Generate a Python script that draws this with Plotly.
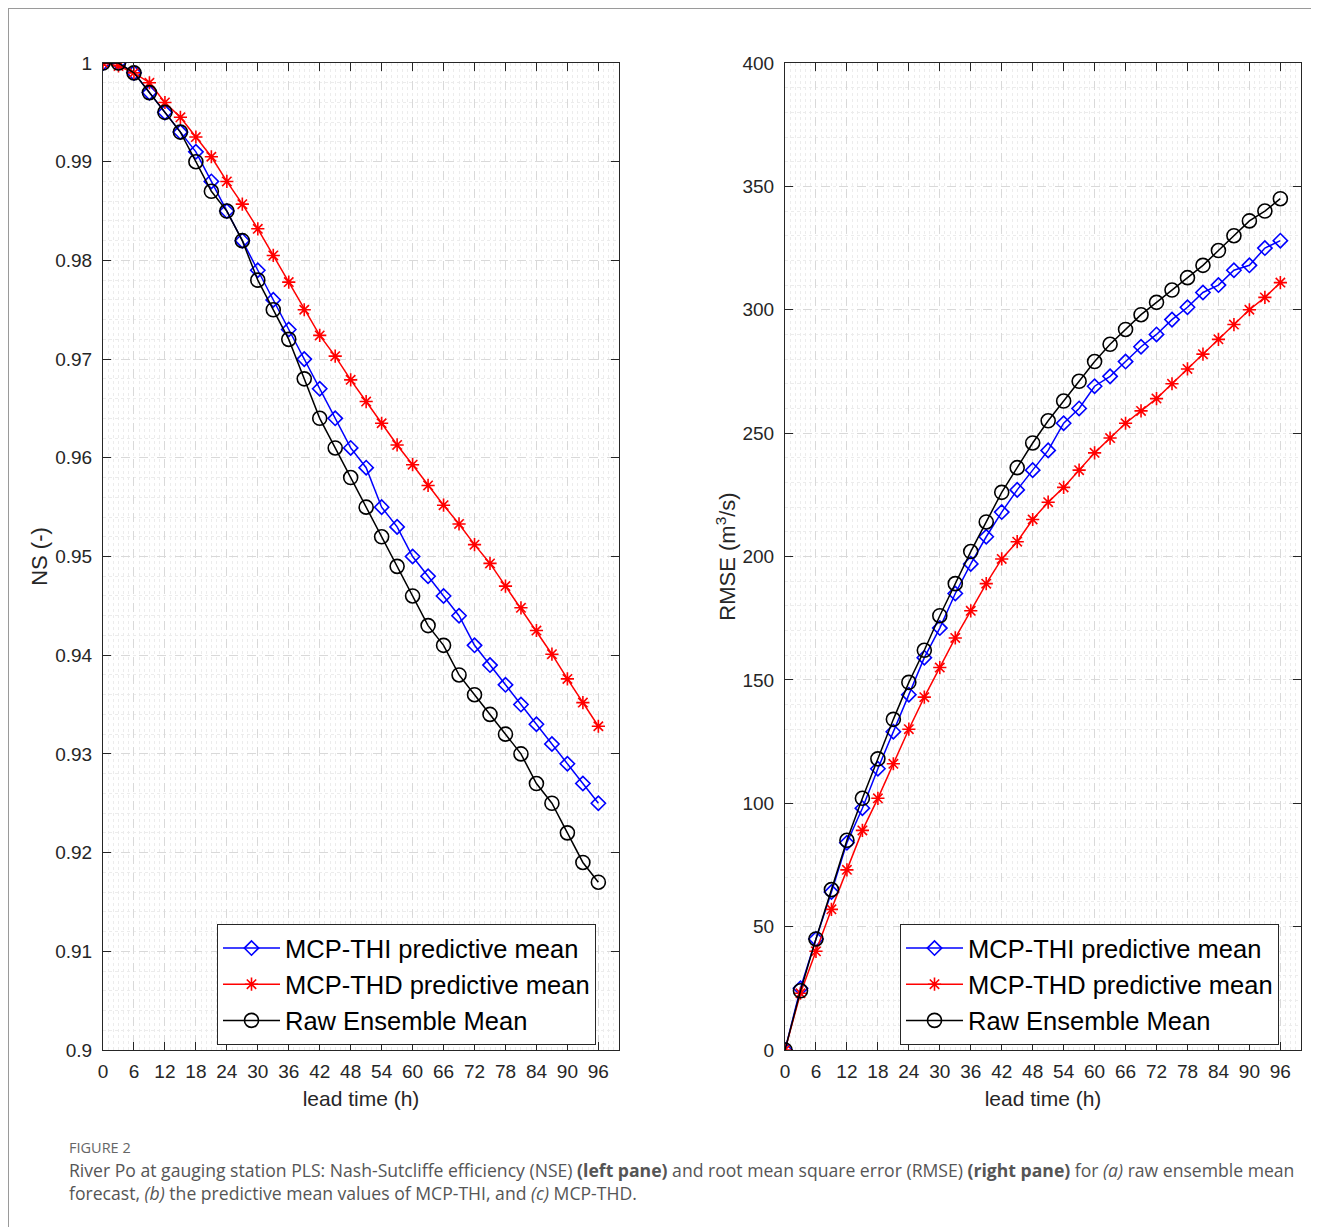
import plotly.graph_objects as go

lead_time = list(range(0, 97, 3))
x_ticks = list(range(0, 97, 6))

ns_ticks = [0.90, 0.91, 0.92, 0.93, 0.94, 0.95, 0.96, 0.97, 0.98, 0.99, 1.00]
ns_tick_labels = ["0.9", "0.91", "0.92", "0.93", "0.94", "0.95", "0.96", "0.97", "0.98", "0.99", "1"]
rmse_ticks = [0, 50, 100, 150, 200, 250, 300, 350, 400]

series_names = ["MCP-THI predictive mean", "MCP-THD predictive mean", "Raw Ensemble Mean"]

ns_thi = [1.000, 1.000, 0.999, 0.997, 0.995, 0.993, 0.991, 0.988, 0.985, 0.982, 0.979,
          0.976, 0.973, 0.970, 0.967, 0.964, 0.961, 0.959, 0.955, 0.953, 0.950, 0.948,
          0.946, 0.944, 0.941, 0.939, 0.937, 0.935, 0.933, 0.931, 0.929, 0.927, 0.925]
ns_thd = [1.000, 0.9997, 0.999, 0.998, 0.996, 0.9945, 0.9925, 0.9905, 0.988, 0.9857, 0.9832,
          0.9805, 0.9778, 0.9750, 0.9724, 0.9703, 0.9679, 0.9657, 0.9635, 0.9613, 0.9593, 0.9572,
          0.9552, 0.9533, 0.9512, 0.9493, 0.9470, 0.9448, 0.9425, 0.9401, 0.9376, 0.9352, 0.9328]
ns_raw = [1.000, 1.000, 0.999, 0.997, 0.995, 0.993, 0.990, 0.987, 0.985, 0.982, 0.978,
          0.975, 0.972, 0.968, 0.964, 0.961, 0.958, 0.955, 0.952, 0.949, 0.946, 0.943,
          0.941, 0.938, 0.936, 0.934, 0.932, 0.930, 0.927, 0.925, 0.922, 0.919, 0.917]

rmse_thi = [0, 25, 45, 64, 84, 98, 114, 129, 144, 159, 171,
            185, 197, 208, 218, 227, 235, 243, 254, 260, 269, 273,
            279, 285, 290, 296, 301, 307, 310, 316, 318, 325, 328]
rmse_thd = [0, 23, 40, 57, 73, 89, 102, 116, 130, 143, 155,
            167, 178, 189, 199, 206, 215, 222, 228, 235, 242, 248,
            254, 259, 264, 270, 276, 282, 288, 294, 300, 305, 311]
rmse_raw = [0, 24, 45, 65, 85, 102, 118, 134, 149, 162, 176,
            189, 202, 214, 226, 236, 246, 255, 263, 271, 279, 286,
            292, 298, 303, 308, 313, 318, 324, 330, 336, 340, 345]

colors = ["#0000ff", "#ff0000", "#000000"]
symbols = ["diamond-open", "asterisk-open", "circle-open"]
sizes = [11, 11, 14]

# page body has an 8px margin; the figure fills the rest of the window
OFF = 8
W, H = 1319 - OFF, 1227 - OFF
FONT = "Liberation Sans, Arial, sans-serif"
AX = "#262626"

fig = go.Figure()

left_data = [ns_thi, ns_thd, ns_raw]
right_data = [rmse_thi, rmse_thd, rmse_raw]
for i in range(3):
    fig.add_trace(go.Scatter(
        x=lead_time, y=left_data[i], name=series_names[i], mode="lines+markers",
        line=dict(color=colors[i], width=1.5),
        marker=dict(symbol=symbols[i], size=sizes[i], color=colors[i],
                    line=dict(color=colors[i], width=1.6)),
        xaxis="x", yaxis="y", legend="legend"))
for i in range(3):
    fig.add_trace(go.Scatter(
        x=lead_time, y=right_data[i], name=series_names[i], mode="lines+markers",
        line=dict(color=colors[i], width=1.5),
        marker=dict(symbol=symbols[i], size=sizes[i], color=colors[i],
                    line=dict(color=colors[i], width=1.6)),
        xaxis="x2", yaxis="y2", legend="legend2"))

def px(v):
    return (v - OFF) / W

def py(v):
    return 1 - (v - OFF) / H

common_x = dict(range=[0, 100], tickvals=x_ticks, ticks="inside", ticklen=8, tickcolor=AX,
                showline=True, linecolor=AX, linewidth=1, mirror="ticks", automargin=False,
                showgrid=True, gridcolor="#d9d9d9", griddash="dash", gridwidth=1,
                zeroline=False, tickfont=dict(family=FONT, size=19, color=AX),
                ticklabelstandoff=4,
                minor=dict(dtick=1, showgrid=True, gridcolor="#ececec", griddash="dot", ticks=""),
                title=dict(text="lead time (h)", font=dict(family=FONT, size=21, color=AX), standoff=10))
common_y = dict(ticks="inside", ticklen=8, tickcolor=AX,
                showline=True, linecolor=AX, linewidth=1, mirror="ticks", automargin=False,
                showgrid=True, gridcolor="#d9d9d9", griddash="dash", gridwidth=1,
                zeroline=False, tickfont=dict(family=FONT, size=19, color=AX),
                ticklabelstandoff=6)

LEG_FONT = dict(family=FONT, size=25.5, color="#000000")

fig.update_layout(
    width=W, height=H, margin=dict(l=0, r=0, t=0, b=0, pad=0), autosize=False,
    paper_bgcolor="white", plot_bgcolor="white",
    xaxis=dict(domain=[px(103), px(619)], anchor="y", **common_x),
    xaxis2=dict(domain=[px(785), px(1301)], anchor="y2", **common_x),
    yaxis=dict(domain=[py(1050), py(63)], anchor="x", range=[0.9, 1.0],
               tickvals=ns_ticks, ticktext=ns_tick_labels,
               minor=dict(dtick=0.002, showgrid=True, gridcolor="#ececec", griddash="dot", ticks=""),
               title=dict(text="NS (-)", font=dict(family=FONT, size=22, color=AX), standoff=1),
               **common_y),
    yaxis2=dict(domain=[py(1050), py(63)], anchor="x2", range=[0, 400],
                tickvals=rmse_ticks,
                minor=dict(dtick=10, showgrid=True, gridcolor="#ececec", griddash="dot", ticks=""),
                title=dict(text="RMSE (m<sup>3</sup>/s)", font=dict(family=FONT, size=22, color=AX), standoff=0),
                **common_y),
    legend=dict(x=px(217), y=py(924), xanchor="left", yanchor="top",
                bgcolor="white", bordercolor=AX, borderwidth=1,
                font=LEG_FONT, itemwidth=57, tracegroupgap=0),
    legend2=dict(x=px(900), y=py(924), xanchor="left", yanchor="top",
                 bgcolor="white", bordercolor=AX, borderwidth=1,
                 font=LEG_FONT, itemwidth=57, tracegroupgap=0),
    showlegend=True,
)

# frame of the figure panel
fig.add_shape(type="line", xref="paper", yref="paper", x0=0, x1=1.0, y0=1.0, y1=1.0,
              line=dict(color="#9a9a9a", width=2))
fig.add_shape(type="line", xref="paper", yref="paper", x0=0, x1=0, y0=1.0, y1=0.0,
              line=dict(color="#9a9a9a", width=2))

CAP = "Open Sans, Noto Sans, sans-serif"
fig.add_annotation(text="FIGURE 2", xref="paper", yref="paper", x=px(67), y=py(1147),
                   xanchor="left", yanchor="middle", showarrow=False,
                   font=dict(family=CAP, size=14.5, color="#666666"))
fig.add_annotation(text="River Po at gauging station PLS: Nash-Sutcliffe efficiency (NSE) <b>(left pane)</b> and root mean square error (RMSE) <b>(right pane)</b> for <i>(a)</i> raw ensemble mean",
                   xref="paper", yref="paper", x=px(67), y=py(1170),
                   xanchor="left", yanchor="middle", showarrow=False,
                   font=dict(family=CAP, size=17.6, color="#555555"))
fig.add_annotation(text="forecast, <i>(b)</i> the predictive mean values of MCP-THI, and <i>(c)</i> MCP-THD.",
                   xref="paper", yref="paper", x=px(67), y=py(1193),
                   xanchor="left", yanchor="middle", showarrow=False,
                   font=dict(family=CAP, size=17.6, color="#555555"))

fig.write_html("out.html")
